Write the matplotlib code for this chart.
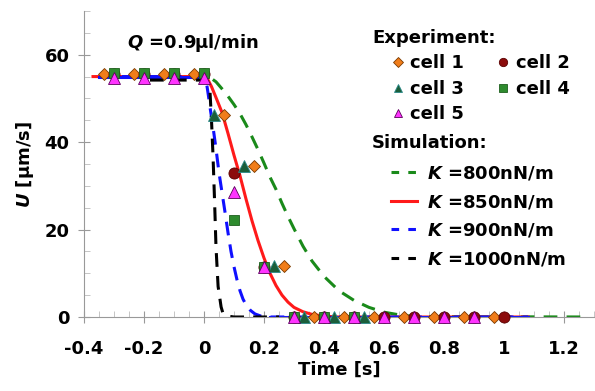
import numpy as np
import matplotlib
matplotlib.use('Agg')
import matplotlib.pyplot as plt
from matplotlib.lines import Line2D
from matplotlib.ticker import MultipleLocator

# Fonts: bold everywhere, italic bold for the symbols
plt.rcParams['font.family'] = ['DejaVu Sans']
plt.rcParams['font.weight'] = 'bold'
plt.rcParams['axes.labelweight'] = 'bold'
plt.rcParams['mathtext.fontset'] = 'custom'
plt.rcParams['mathtext.it'] = 'DejaVu Sans:bold:italic'
plt.rcParams['mathtext.rm'] = 'DejaVu Sans:bold'

# Experiment data (time [s], U [um/s])
cell1_t = [-0.333, -0.233, -0.133, -0.033, 0.067, 0.167, 0.267, 0.367, 0.467, 0.567, 0.667, 0.767, 0.867, 0.967]
cell1_u = [55.5, 55.5, 55.5, 55.5, 46.2, 34.6, 11.6, 0, 0, 0, 0, 0, 0, 0]
cell2_t = [-0.3, -0.2, -0.1, 0.0, 0.1, 0.2, 0.3, 0.4, 0.5, 0.6, 0.7, 0.8, 0.9, 1.0]
cell2_u = [55.5, 55.5, 55.5, 55.5, 33.0, 11.5, 0, 0, 0, 0, 0, 0, 0, 0]
cell3_t = [0.033, 0.133, 0.233, 0.333, 0.433, 0.533]
cell3_u = [46.2, 34.5, 11.6, 0, 0, 0]
cell4_t = [-0.3, -0.2, -0.1, 0.0, 0.1, 0.2, 0.3, 0.4, 0.5]
cell4_u = [55.8, 55.8, 55.8, 55.8, 22.3, 11.5, 0, 0, 0]
cell5_t = [-0.3, -0.2, -0.1, 0.0, 0.1, 0.2, 0.3, 0.4, 0.5, 0.6, 0.7, 0.8, 0.9]
cell5_u = [54.7, 54.7, 54.7, 54.7, 28.6, 11.4, 0, 0, 0, 0, 0, 0, 0]

# Simulation curves
k800_t = [-0.35, 0.0, 0.02, 0.04, 0.06, 0.08, 0.1, 0.12, 0.14, 0.16, 0.18, 0.2, 0.22, 0.24, 0.26, 0.28,
          0.3, 0.33, 0.36, 0.4, 0.45, 0.5, 0.55, 0.6, 0.65, 0.7, 1.28]
k800_u = [55, 55, 54.8, 53.8, 52.2, 50.5, 48.6, 46.5, 44, 41.2, 38.3, 35.2, 32, 29.2, 26, 23, 20.2, 16.2,
          12.8, 9.3, 6, 3.8, 2.2, 1.1, 0.5, 0.1, 0]
k850_t = [-0.37, 0.0, 0.013, 0.025, 0.04, 0.06, 0.08, 0.1, 0.12, 0.14, 0.16, 0.18, 0.2, 0.22, 0.24, 0.26,
          0.28, 0.3, 0.33, 0.36, 0.4, 0.45, 1.08]
k850_u = [55, 55, 54.3, 52.7, 50.2, 46.8, 42, 37, 32.3, 27, 22, 17.5, 13.5, 10, 7.2, 5, 3.4, 2.2, 1.2, 0.6,
          0.2, 0, 0]
k900_t = [-0.35, 0.0, 0.005, 0.01, 0.015, 0.02, 0.03, 0.04, 0.05, 0.06, 0.07, 0.08, 0.09, 0.1, 0.11, 0.12,
          0.13, 0.14, 0.155, 0.17, 0.19, 0.22, 1.08]
k900_u = [55, 55, 54.3, 52.8, 50.5, 48, 43.5, 38.5, 33, 28.5, 24, 19.3, 15, 11.5, 8.5, 6, 4.1, 2.8, 1.5,
          0.7, 0.2, 0, 0]
k1000_t = [-0.18, 0.0, 0.012, 0.02, 0.025, 0.03, 0.035, 0.04, 0.047, 0.057, 0.063, 0.08, 0.1, 0.25]
k1000_u = [54.2, 54.2, 53.5, 51.5, 45, 37, 27, 16, 7, 2.3, 0.9, 0.2, 0, 0]

xtick_vals = [-0.4, -0.2, 0, 0.2, 0.4, 0.6, 0.8, 1.0, 1.2]
xtick_labels = ['-0.4', '-0.2', '0', '0.2', '0.4', '0.6', '0.8', '1', '1.2']
ytick_vals = [0, 20, 40, 60]

fig = plt.figure(figsize=(5.95, 3.91), dpi=100)
ax = fig.add_axes([84/595, 1-317/391, 510/595, 306/391])

lw = 2.2
dash = (4.5, 3)
ax.plot(k800_t, k800_u, color='#1a8a1a', lw=lw, dashes=dash)
ax.plot(k850_t, k850_u, color='#ff1a1a', lw=lw)
# K=900 looks solid on the flat parts
k900_t = np.array(k900_t); k900_u = np.array(k900_u)
flat_hi = k900_u >= 55
flat_lo = k900_t >= 0.22
ax.plot(k900_t, k900_u, color='#1010ff', lw=lw, dashes=dash)
ax.plot(k900_t[flat_hi], k900_u[flat_hi], color='#1010ff', lw=lw)
ax.plot(k900_t[flat_lo], k900_u[flat_lo], color='#1010ff', lw=lw)
ax.plot(k1000_t, k1000_u, color='black', lw=lw, dashes=dash)

# Experimental markers
mk = dict(ls='none', clip_on=False, zorder=5)
ax.plot(cell1_t, cell1_u, marker='D', ms=6.5, mfc='#f07d1a', mec='#7a3a00', mew=0.6, **mk)
ax.plot(cell2_t, cell2_u, marker='o', ms=8, mfc='#8b0c0c', mec='#5a0000', mew=0.6, **mk)
ax.plot(cell3_t, cell3_u, marker='^', ms=8, mfc='#1b5e3a', mec='#2a8a8a', mew=0.6, **mk)
ax.plot(cell4_t, cell4_u, marker='s', ms=7.5, mfc='#2e8b2e', mec='#1d5f1d', mew=0.6, **mk)
ax.plot(cell5_t, cell5_u, marker='^', ms=8, mfc='#ff33ff', mec='#5a005a', mew=0.6, **mk)

ax.set_xlim(-0.4, 1.3)
ax.set_ylim(0, 70)
ax.set_xticks(xtick_vals)
ax.set_xticklabels(xtick_labels)
ax.set_yticks(ytick_vals)
ax.xaxis.set_minor_locator(MultipleLocator(0.05))
ax.yaxis.set_minor_locator(MultipleLocator(5))
for s in ['top', 'right']:
    ax.spines[s].set_visible(False)
for s in ['left', 'bottom']:
    ax.spines[s].set_color('#999999')
ax.tick_params(which='major', direction='inout', length=9, color='#999999', labelsize=13)
ax.tick_params(which='minor', direction='in', length=4, color='#bbbbbb')
ax.tick_params(axis='x', which='major', pad=12)
ax.tick_params(axis='y', which='major', pad=6)
ax.set_xlabel('Time [s]', fontsize=13, labelpad=2)
ax.set_ylabel(r'$U$ [µm/s]', fontsize=13, labelpad=6)

ax.text(0.084, 0.895, r'$Q$ =0.9µl/min', transform=ax.transAxes, fontsize=13, va='center')
ax.text(0.565, 0.912, 'Experiment:', transform=ax.transAxes, fontsize=13, va='center')
ax.text(0.565, 0.569, 'Simulation:', transform=ax.transAxes, fontsize=13, va='center')

# Legend: experiment cells
exp_handles = [
    Line2D([], [], ls='none', marker='D', ms=5, mfc='#f07d1a', mec='#7a3a00', mew=0.6),
    Line2D([], [], ls='none', marker='^', ms=6, mfc='#1b5e3a', mec='#2a8a8a', mew=0.6),
    Line2D([], [], ls='none', marker='^', ms=6, mfc='#ff33ff', mec='#5a005a', mew=0.6),
    Line2D([], [], ls='none', marker='o', ms=6, mfc='#8b0c0c', mec='#5a0000', mew=0.6),
    Line2D([], [], ls='none', marker='s', ms=5.5, mfc='#2e8b2e', mec='#1d5f1d', mew=0.6),
]
exp_labels = ['cell 1', 'cell 3', 'cell 5', 'cell 2', 'cell 4']
leg1 = ax.legend(exp_handles, exp_labels, ncol=2, frameon=False, fontsize=13,
                 loc='upper left', bbox_to_anchor=(0.583, 0.888), borderpad=0,
                 handlelength=0.8, handletextpad=0.3, columnspacing=1.75, labelspacing=0.42)
ax.add_artist(leg1)

sim_handles = [
    Line2D([], [], color='#1a8a1a', lw=lw, dashes=(2.5, 3)),
    Line2D([], [], color='#ff1a1a', lw=lw),
    Line2D([], [], color='#1010ff', lw=lw, dashes=(2.5, 3)),
    Line2D([], [], color='black', lw=lw, dashes=(2.5, 3)),
]
sim_labels = [r'$K$ =800nN/m', r'$K$ =850nN/m', r'$K$ =900nN/m', r'$K$ =1000nN/m']
ax.legend(sim_handles, sim_labels, frameon=False, fontsize=13,
          loc='upper left', bbox_to_anchor=(0.585, 0.527), borderpad=0,
          handlelength=1.4, handletextpad=0.55, labelspacing=0.58)

fig.savefig('out.png', dpi=100)
